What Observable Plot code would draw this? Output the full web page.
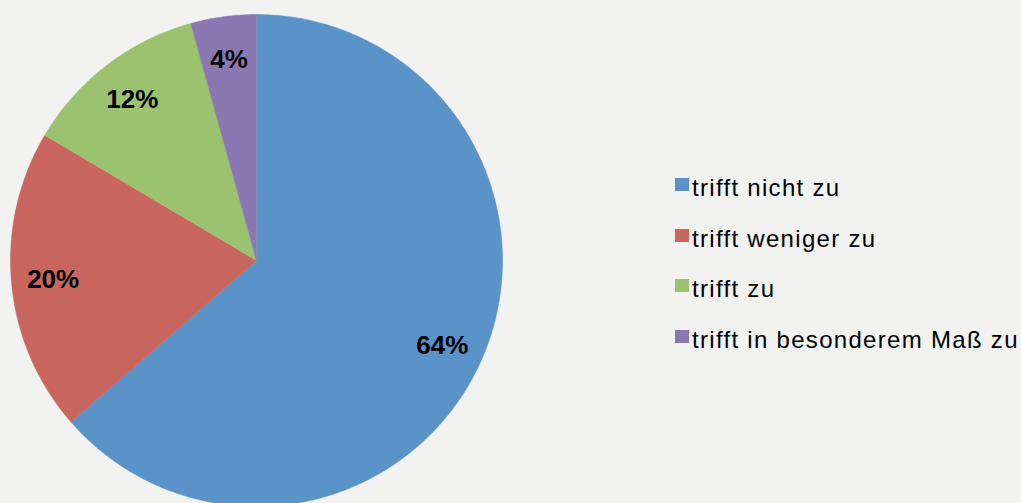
<!DOCTYPE html>
<html>
<head>
<meta charset="utf-8">
<script src="https://cdn.jsdelivr.net/npm/d3@7"></script>
<script src="https://cdn.jsdelivr.net/npm/@observablehq/plot@0.6"></script>
<style>
  html, body { margin: 0; padding: 0; background: #f2f2f1; }
  #wrap { position: relative; width: 1021px; height: 503px; overflow: hidden; }
  #legend { position: absolute; left: 675px; top: 176px; font-family: "Liberation Sans", Arial, sans-serif; font-size: 24px; letter-spacing: 1.3px; color: #000; }
  .row { position: relative; height: 50.5px; white-space: nowrap; }
  .sw { position: absolute; left: 0; top: 2px; width: 14px; height: 13px; }
  .lb { position: absolute; left: 17px; top: 0; line-height: 24px; }
</style>
</head>
<body>
<div id="wrap"><div id="chart"></div><div id="legend"></div></div>
<script>
const categories = ["trifft nicht zu", "trifft weniger zu", "trifft zu", "trifft in besonderem Maß zu"];
const values = [63.6, 19.9, 12.2, 4.3];
const labels = ["64%", "20%", "12%", "4%"];
const colors = ["#5a93c8", "#c9665f", "#9bc26e", "#8b78b2"];

const data = categories.map((c, i) => ({category: c, value: values[i], label: labels[i]}));
const arcs = d3.pie().sort(null).value(d => d.value)(data);

// polygon outline points for each slice (angle measured clockwise from top)
const outline = [];
for (const a of arcs) {
  const cat = a.data.category;
  outline.push({category: cat, x: 0, y: 0});
  const n = Math.max(8, Math.ceil((a.endAngle - a.startAngle) * 120));
  for (let k = 0; k <= n; k++) {
    const t = a.startAngle + (a.endAngle - a.startAngle) * k / n;
    outline.push({category: cat, x: Math.sin(t), y: Math.cos(t)});
  }
  outline.push({category: cat, x: 0, y: 0});
}
const labelPts = arcs.map(a => {
  const m = (a.startAngle + a.endAngle) / 2;
  return {label: a.data.label, x: 0.83 * Math.sin(m), y: 0.83 * Math.cos(m)};
});

const plot = Plot.plot({
  width: 1021,
  height: 503,
  margin: 0,
  style: {background: "transparent", overflow: "visible"},
  x: {domain: [-1, 1], range: [10, 502], axis: null},
  y: {domain: [-1, 1], range: [506, 14], axis: null},
  color: {domain: categories, range: colors},
  marks: [
    Plot.line(outline, {x: "x", y: "y", z: "category", fill: "category", stroke: "category", strokeWidth: 0.5, curve: "linear"}),
    Plot.text(labelPts, {x: "x", y: "y", text: "label", fontSize: 26, fontWeight: "bold", fill: "#000", dy: 1, fontFamily: "Liberation Sans, Arial, sans-serif"})
  ]
});
document.getElementById("chart").appendChild(plot);

const legend = document.getElementById("legend");
categories.forEach((c, i) => {
  const row = document.createElement("div");
  row.className = "row";
  const sw = document.createElement("div");
  sw.className = "sw";
  sw.style.background = colors[i];
  const lb = document.createElement("div");
  lb.className = "lb";
  lb.textContent = c;
  row.appendChild(sw);
  row.appendChild(lb);
  legend.appendChild(row);
});
</script>
</body>
</html>
